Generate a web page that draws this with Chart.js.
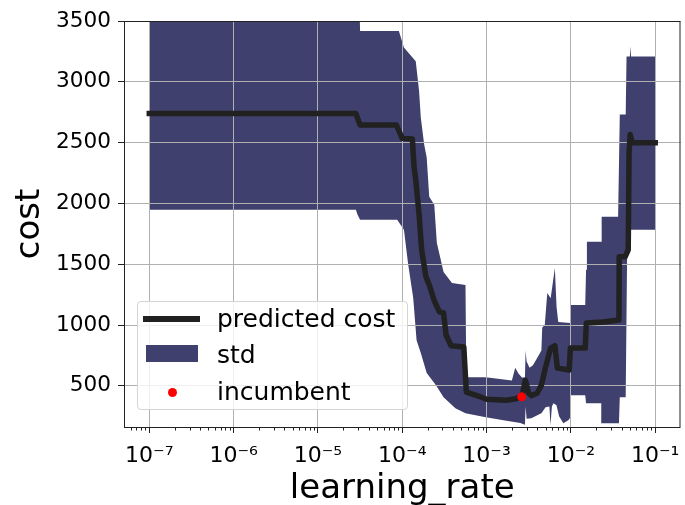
<!DOCTYPE html>
<html lang="en">
<head>
<meta charset="UTF-8">
<title>cost vs learning_rate</title>
<script src="https://cdn.jsdelivr.net/npm/chart.js"></script>
<style>
    body { margin: 0; background: #fff; }
    #wrap { position: relative; width: 685px; height: 505px; }
    #legend {
        position: absolute; left: 137px; top: 301px; width: 269px; height: 107px;
        border: 1px solid #d4d4d4; border-radius: 4px; background: rgba(255, 255, 255, 0.8);
        font-family: 'DejaVu Sans', sans-serif; font-size: 25px; color: #000;
    }
    #legend .row { position: absolute; left: 0; width: 269px; height: 36px; line-height: 36px; }
    #legend .txt { position: absolute; left: 79px; top: 0; white-space: nowrap; }
    #legend .sym { position: absolute; }
</style>
</head>
<body>
<div id="wrap">
    <canvas id="costChart" width="685" height="505"></canvas>
    <div id="legend"></div>
</div>

<script>
    const meanLogLR = [-7.00, -4.55, -4.50, -4.07, -4.00, -3.88, -3.86, -3.84, -3.80, -3.77, -3.72, -3.68, -3.62,
        -3.56, -3.51, -3.48, -3.42, -3.27, -3.24, -3.06, -3.00, -2.77, -2.65, -2.58, -2.54, -2.50, -2.47, -2.40,
        -2.35, -2.30, -2.24, -2.19, -2.16, -2.02, -2.006, -1.83, -1.817, -1.62, -1.43, -1.427, -1.357, -1.32,
        -1.31, -1.297, -1.273, -1.00];
    const meanCost = [2740, 2740, 2645, 2645, 2535, 2530, 2300, 2195, 1907, 1619, 1400, 1330, 1200,
        1108, 1100, 918, 830, 820, 448, 407, 390, 382, 395, 415, 547, 440, 420, 440,
        506, 654, 811, 830, 646, 630, 811, 811, 1017, 1025, 1042, 1561, 1561, 1619,
        2418, 2567, 2500, 2500];

    const upperLogLR = [-7.00, -4.51, -4.50, -4.04, -3.98, -3.84, -3.80, -3.78, -3.74, -3.71, -3.68, -3.62, -3.59,
        -3.51, -3.41, -3.25, -3.24, -3.01, -2.70, -2.66, -2.62, -2.58, -2.545, -2.537, -2.525, -2.49, -2.45,
        -2.40, -2.35, -2.34, -2.31, -2.28, -2.24, -2.19, -2.17, -2.15, -2.006, -2.00, -1.83, -1.82, -1.81,
        -1.64, -1.635, -1.44, -1.42, -1.35, -1.34, -1.30, -1.297, -1.286, -1.00];
    const upperCost = [3700, 3700, 3418, 3418, 3283, 3170, 2923, 2706, 2484, 2377, 2055, 1990, 1676,
        1437, 1346, 1330, 572, 572, 545, 650, 600, 570, 570, 790, 700, 650, 670,
        730, 790, 980, 1000, 1264, 1220, 1470, 1150, 1025, 1017, 1166, 1166, 1454, 1685,
        1685, 1891, 1891, 2731, 2731, 3209, 3209, 3291, 3209, 3209];

    const lowerLogLR = [-7.00, -4.55, -4.53, -4.50, -4.06, -4.02, -3.98, -3.93, -3.87, -3.83, -3.78, -3.71, -3.60,
        -3.51, -3.37, -3.25, -3.01, -2.80, -2.60, -2.545, -2.537, -2.525, -2.47, -2.35, -2.30, -2.255, -2.242,
        -2.225, -2.207, -2.171, -2.14, -2.09, -2.03, -2.006, -2.00, -1.83, -1.82, -1.64, -1.635, -1.43, -1.42,
        -1.35, -1.33, -1.00];
    const lowerCost = [1948, 1948, 1907, 1866, 1866, 1824, 1783, 1500, 1222, 876, 770, 605, 506,
        407, 316, 275, 242, 217, 195, 180, 330, 230, 234, 275, 324, 330, 176,
        330, 357, 341, 250, 192, 217, 240, 423, 423, 358, 358, 192, 192, 407,
        407, 1783, 1783];

    const incumbentLogLR = [-2.584];
    const incumbentCost = [410];

    const xTickExps = [-7, -6, -5, -4, -3, -2, -1];
    const xTickLabels = ['10⁻⁷', '10⁻⁶', '10⁻⁵', '10⁻⁴', '10⁻³', '10⁻²', '10⁻¹'];
    const yTickValues = [500, 1000, 1500, 2000, 2500, 3000, 3500];

    const BAND = '#40406f';
    const LINE = '#212121';
    const FONT = 'DejaVu Sans';

    const toPoints = (lx, ly) => lx.map((e, i) => ({ x: Math.pow(10, e), y: ly[i] }));

    // grid sits above the std band but below the cost line, and the frame + minor ticks on top
    const overlays = {
        id: 'overlays',
        afterDatasetDraw(chart, args) {
            if (args.meta.label !== 'std') return;
            chart.scales.x.drawGrid(chart.chartArea);
            chart.scales.y.drawGrid(chart.chartArea);
        },
        afterDraw(chart) {
            const { ctx, chartArea: a, scales: { x } } = chart;
            ctx.save();
            ctx.strokeStyle = '#222';
            ctx.lineWidth = 1;
            ctx.beginPath();
            for (let e = -8; e <= -1; e++) {
                for (let k = 2; k <= 9; k++) {
                    const v = k * Math.pow(10, e);
                    if (v < x.min || v > x.max) continue;
                    const px = Math.round(x.getPixelForValue(v)) + 0.5;
                    ctx.moveTo(px, a.bottom);
                    ctx.lineTo(px, a.bottom + 3.5);
                }
            }
            ctx.stroke();
            ctx.strokeRect(a.left + 0.5, a.top + 0.5, a.right - a.left - 1, a.bottom - a.top);
            ctx.restore();
        }
    };

    const ctx = document.getElementById('costChart').getContext('2d');
    const costChart = new Chart(ctx, {
        type: 'line',
        data: {
            datasets: [
                {
                    label: 'incumbent',
                    data: toPoints(incumbentLogLR, incumbentCost),
                    showLine: false,
                    pointRadius: 4.5,
                    pointBackgroundColor: '#ff0000',
                    pointBorderWidth: 0,
                    backgroundColor: '#ff0000',
                    order: 0
                },
                {
                    label: 'predicted cost',
                    data: toPoints(meanLogLR, meanCost),
                    borderColor: LINE,
                    borderWidth: 5.5,
                    borderCapStyle: 'square',
                    borderJoinStyle: 'round',
                    pointRadius: 0,
                    fill: false,
                    tension: 0,
                    order: 1
                },
                {
                    label: 'std',
                    data: toPoints(upperLogLR, upperCost),
                    borderWidth: 0,
                    borderColor: BAND,
                    backgroundColor: BAND,
                    pointRadius: 0,
                    fill: '+1',
                    tension: 0,
                    order: 2
                },
                {
                    label: 'std lower',
                    data: toPoints(lowerLogLR, lowerCost),
                    borderWidth: 0,
                    borderColor: BAND,
                    pointRadius: 0,
                    fill: false,
                    tension: 0,
                    order: 3
                }
            ]
        },
        options: {
            responsive: false,
            animation: false,
            devicePixelRatio: 1,
            layout: { padding: { top: 21, right: 2.5, left: 0, bottom: 0 } },
            plugins: {
                legend: { display: false },
                tooltip: { enabled: false }
            },
            scales: {
                x: {
                    type: 'logarithmic',
                    min: Math.pow(10, -7.3),
                    max: Math.pow(10, -0.7),
                    border: { display: false },
                    grid: { color: '#b0b0b0', lineWidth: 1, tickLength: 6, tickColor: '#222' },
                    afterBuildTicks: scale => {
                        scale.ticks = xTickExps.map(e => ({ value: Math.pow(10, e), major: true }));
                    },
                    afterFit: scale => {
                        scale.height = 78;
                        scale.paddingLeft = 0;
                        scale.paddingRight = 0;
                    },
                    ticks: {
                        autoSkip: false,
                        maxRotation: 0,
                        padding: 10,
                        color: '#000',
                        font: { family: FONT, size: 22 },
                        callback: (value, index) => xTickLabels[index]
                    },
                    title: {
                        display: true,
                        text: 'learning_rate',
                        color: '#000',
                        font: { family: FONT, size: 34, lineHeight: 0.95 },
                        padding: { top: 0, bottom: 0 }
                    }
                },
                y: {
                    type: 'linear',
                    min: 162,
                    max: 3500,
                    border: { display: false },
                    grid: { color: '#b0b0b0', lineWidth: 1, tickLength: 6, tickColor: '#222' },
                    afterBuildTicks: scale => {
                        scale.ticks = yTickValues.map(v => ({ value: v }));
                    },
                    afterFit: scale => {
                        scale.width = 124;
                        scale.paddingTop = 0;
                        scale.paddingBottom = 0;
                    },
                    ticks: {
                        padding: 7,
                        color: '#000',
                        font: { family: FONT, size: 21.6 },
                        callback: value => String(value)
                    },
                    title: {
                        display: true,
                        text: 'cost',
                        color: '#000',
                        font: { family: FONT, size: 34 },
                        padding: { top: 9.5, bottom: 0 }
                    }
                }
            }
        },
        plugins: [overlays]
    });

    // legend box drawn like the original, from the dataset styles
    const legendRows = [
        { label: costChart.data.datasets[1].label, kind: 'line', color: LINE },
        { label: costChart.data.datasets[2].label, kind: 'box', color: BAND },
        { label: costChart.data.datasets[0].label, kind: 'dot', color: '#ff0000' }
    ];
    const legend = document.getElementById('legend');
    const rowTops = [-1.5, 35, 71.5];
    legendRows.forEach((r, i) => {
        const row = document.createElement('div');
        row.className = 'row';
        row.style.top = rowTops[i] + 'px';
        const sym = document.createElement('div');
        sym.className = 'sym';
        if (r.kind === 'line') {
            Object.assign(sym.style, { left: '5px', top: '15px', width: '57px', height: '6px', background: r.color });
        } else if (r.kind === 'box') {
            Object.assign(sym.style, { left: '8px', top: '8px', width: '52px', height: '17px', background: r.color });
        } else {
            Object.assign(sym.style, { left: '30px', top: '14px', width: '9px', height: '9px', borderRadius: '50%', background: r.color });
        }
        const txt = document.createElement('div');
        txt.className = 'txt';
        txt.textContent = r.label;
        row.appendChild(sym);
        row.appendChild(txt);
        legend.appendChild(row);
    });
</script>
</body>
</html>
